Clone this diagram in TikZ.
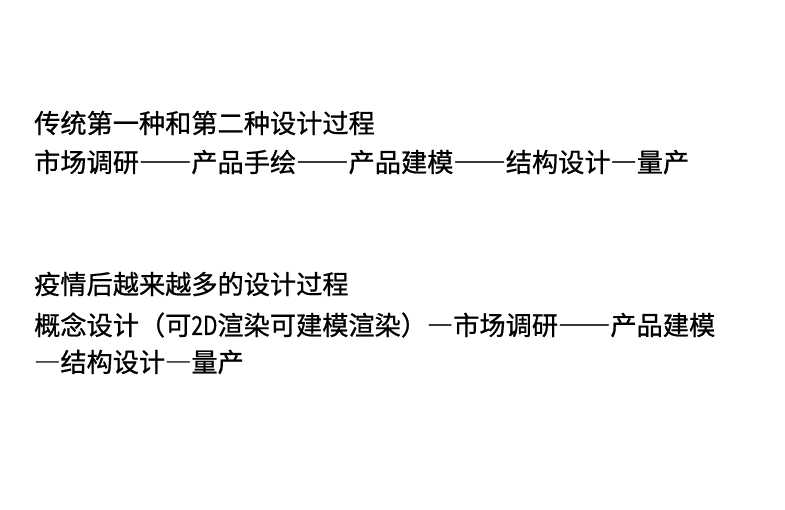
\documentclass[tikz,border=0pt]{standalone}
\usepackage{graphicx}
\usepackage{fontspec}
\newfontfamily\cjk{Noto Sans CJK SC}[FakeBold=0.8]
\newcommand{\fwd}[1]{{\addfontfeatures{RawFeature=+fwid}#1}}
\begin{document}
\begin{tikzpicture}[x=1bp,y=-1bp,
  txt/.style={anchor=west,inner sep=0pt,font=\cjk\fontsize{26.2bp}{30bp}\selectfont}]
\useasboundingbox (0,0) rectangle (785,510);
\fill[white] (0,0) rectangle (785,510);
\node[txt] (l1) at (34,123) {传统第一种和第二种设计过程};
\node[txt] (l2) at (34,162) {市场调研\fwd{——}产品手绘\fwd{——}产品建模\fwd{——}结构设计\fwd{—}量产};
\node[txt] (l3) at (34,284) {疫情后越来越多的设计过程};
\node[txt] (l4) at (34,325) {概念设计（可\scalebox{0.8}[1]{2D}渲染可建模渲染）\fwd{—}市场调研\fwd{——}产品建模};
\node[txt] (l5) at (34,362) {\fwd{—}结构设计\fwd{—}量产};
\end{tikzpicture}
\end{document}
